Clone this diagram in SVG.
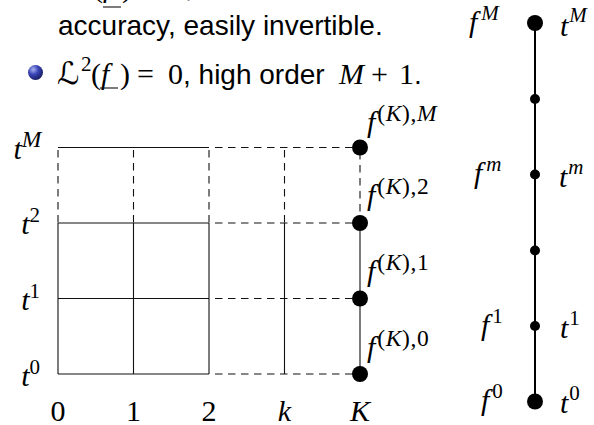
<svg xmlns="http://www.w3.org/2000/svg" width="594" height="425" viewBox="0 0 594 425">
<style>
.s{font-family:"Liberation Sans",Arial,sans-serif;font-size:28px;fill:#000}
.m{font-family:"Liberation Serif","DejaVu Serif",serif;font-style:italic;font-size:30px;fill:#000}
.u{font-style:normal}
.sup{font-size:21px}
.sk{font-size:23.5px;letter-spacing:0.6px}
.sol{stroke:#111;stroke-width:1.1;fill:none}
.das{stroke:#111;stroke-width:1.1;fill:none;stroke-dasharray:7.5 5.5}
.cal{font-family:"DejaVu Serif","DejaVu Sans",serif;font-style:italic;font-size:31px}
</style>
<defs>
<radialGradient id="ball" cx="0.35" cy="0.3" r="0.75">
<stop offset="0" stop-color="#a9b3f0"/>
<stop offset="0.45" stop-color="#3a45b8"/>
<stop offset="1" stop-color="#141a5c"/>
</radialGradient>
</defs>
<g id="text">
<text y="-3" class="m"><tspan x="58" class="cal">ℒ</tspan><tspan x="81" dy="-12" class="sup u">1</tspan><tspan x="93" dy="12" class="u">(</tspan><tspan x="103">f</tspan><tspan x="122" class="u">)</tspan><tspan x="139" class="u">=</tspan><tspan x="170" class="u">0</tspan><tspan x="185" class="s" style="font-style:normal">, first order</tspan></text>
<line x1="103" y1="7" x2="121" y2="7" class="sol"/>
<text x="58" y="35" class="s">accuracy, easily invertible.</text>
<circle cx="35.5" cy="72.5" r="7.5" fill="url(#ball)"/>
<text y="84" class="m"><tspan x="57" class="cal">ℒ</tspan><tspan x="81" dy="-13" class="sup u">2</tspan><tspan x="91" dy="13" class="u">(</tspan><tspan x="101">f</tspan><tspan x="120" class="u">)</tspan><tspan x="137" class="u">=</tspan><tspan x="168" class="u">0</tspan><tspan x="183" class="s" style="font-style:normal">, high order</tspan><tspan x="339">M</tspan><tspan x="371" class="u">+</tspan><tspan x="399" class="u">1</tspan><tspan x="414" class="s" style="font-style:normal">.</tspan></text>
<line x1="100" y1="88" x2="118" y2="88" class="sol"/>
</g>
<g id="connectors">
<path class="sol" d="M58 147.5H209M58 223H209M58 298.5H209M58 374H209"/>
<path class="das" d="M215 147.5H355M215 223H355M215 298.5H355M215 374H355"/>
<path class="das" d="M58 150V223M133.5 150V223M209 150V223M284.5 150V223M360 152V223"/>
<path class="sol" d="M58 223V374M133.5 223V374M209 223V374M284.5 223V374M360 223V374"/>
<line x1="535" y1="23" x2="535" y2="401.5" stroke="#000" stroke-width="2"/>
</g>
<g id="grid-labels">
<text x="42" y="159" class="m" text-anchor="end">t<tspan class="sk" dy="-12">M</tspan></text>
<text x="40" y="234" class="m" text-anchor="end">t<tspan class="sup u" dy="-12">2</tspan></text>
<text x="40" y="310" class="m" text-anchor="end">t<tspan class="sup u" dy="-12">1</tspan></text>
<text x="40" y="386" class="m" text-anchor="end">t<tspan class="sup u" dy="-12">0</tspan></text>
<text x="58" y="421" class="m u" text-anchor="middle">0</text>
<text x="133.5" y="421" class="m u" text-anchor="middle">1</text>
<text x="209" y="421" class="m u" text-anchor="middle">2</text>
<text x="284.5" y="421" class="m" text-anchor="middle">k</text>
<text x="360" y="421" class="m" text-anchor="middle">K</text>
</g>
<g id="node-fK-M"><circle cx="360" cy="147.5" r="8"/><text x="367" y="132" class="m">f<tspan class="sk u" dx="2" dy="-11">(</tspan><tspan class="sk">K</tspan><tspan class="sk u">),</tspan><tspan class="sk">M</tspan></text></g>
<g id="node-fK-2"><circle cx="360" cy="223" r="8"/><text x="367" y="205" class="m">f<tspan class="sk u" dx="2" dy="-11">(</tspan><tspan class="sk">K</tspan><tspan class="sk u">),2</tspan></text></g>
<g id="node-fK-1"><circle cx="360" cy="298.5" r="8"/><text x="367" y="281" class="m">f<tspan class="sk u" dx="2" dy="-11">(</tspan><tspan class="sk">K</tspan><tspan class="sk u">),1</tspan></text></g>
<g id="node-fK-0"><circle cx="360" cy="374" r="8"/><text x="367" y="357" class="m">f<tspan class="sk u" dx="2" dy="-11">(</tspan><tspan class="sk">K</tspan><tspan class="sk u">),0</tspan></text></g>
<g id="node-M"><circle cx="535" cy="23" r="8"/><text x="469" y="32" class="m">f<tspan class="sup" dx="4" dy="-12">M</tspan></text><text x="560" y="36" class="m">t<tspan class="sup" dx="1" dy="-14">M</tspan></text></g>
<g id="node-a"><circle cx="535" cy="99" r="5"/></g>
<g id="node-m"><circle cx="535" cy="174.5" r="5"/><text x="474" y="183" class="m">f<tspan class="sup" dx="4" dy="-12">m</tspan></text><text x="559" y="187" class="m">t<tspan class="sup" dx="1" dy="-13">m</tspan></text></g>
<g id="node-b"><circle cx="535" cy="250.5" r="5"/></g>
<g id="node-1"><circle cx="535" cy="326" r="5"/><text x="481" y="335" class="m">f<tspan class="sup u" dx="3" dy="-12">1</tspan></text><text x="560" y="338" class="m">t<tspan class="sup u" dx="1" dy="-13">1</tspan></text></g>
<g id="node-0"><circle cx="535" cy="401.5" r="8"/><text x="481" y="410" class="m">f<tspan class="sup u" dx="3" dy="-12">0</tspan></text><text x="560" y="413" class="m">t<tspan class="sup u" dx="1" dy="-13">0</tspan></text></g>
</svg>
